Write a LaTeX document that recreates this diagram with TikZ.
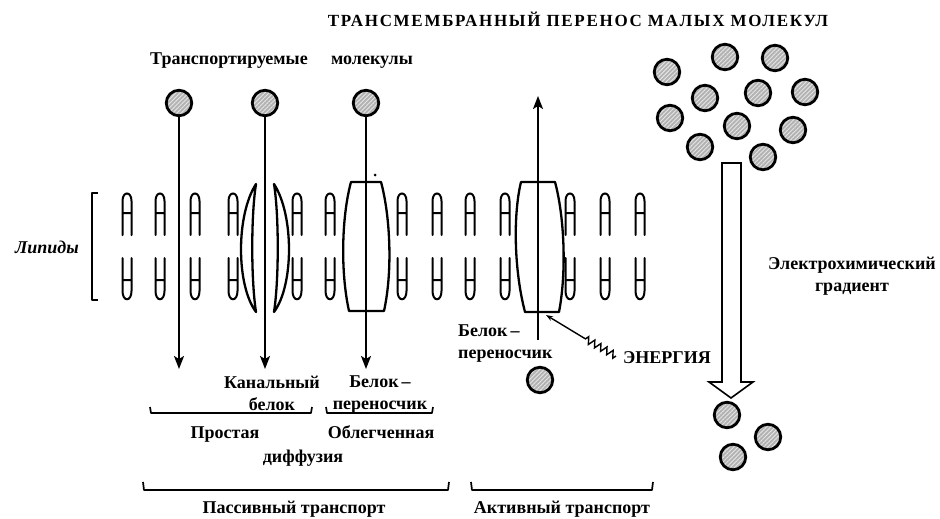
\documentclass[tikz,border=0pt]{standalone}
\usepackage{fontspec}
\setmainfont{Liberation Serif}
\newfontfamily\titlefont[LetterSpace=10]{Liberation Serif}
\usetikzlibrary{arrows.meta,patterns.meta,decorations.pathmorphing}

\begin{document}
\begin{tikzpicture}[x=1pt, y=-1pt, >={Stealth[length=13pt,width=10pt,inset=3pt]},
    mol/.style={circle, draw, line width=2.8pt, minimum size=25.5pt, inner sep=0pt,
        preaction={fill=gray!60}, pattern={Lines[angle=45,distance=3pt,line width=0.9pt]},
        pattern color=white!80!gray},
    lipid/.style={line width=2pt, line cap=round},
    prot/.style={line width=2.3pt, fill=white, line join=round},
    lbl/.style={font=\fontsize{18}{22}\selectfont\bfseries, inner sep=0pt, align=center},
    grp/.style={line width=1.7pt, line join=round}]
    \useasboundingbox (0,0) rectangle (940,519);

    % title and headings
    \node[font=\titlefont\fontsize{17}{20}\selectfont\bfseries, inner sep=0pt, anchor=base] (title) at (578,27)
        {ТРАНСМЕМБРАННЫЙ ПЕРЕНОС МАЛЫХ МОЛЕКУЛ};
    \node[lbl, anchor=base] (tr) at (229,65) {Транспортируемые};
    \node[lbl, anchor=base] (ml) at (372,65) {молекулы};

    % lipid bilayer
    \foreach \x in {127,160,195,233,297,330,402,437,470,505,570,605,640} {
        \draw[lipid] (\x-4.5,235) -- (\x-4.5,201) .. controls (\x-4.5,191) and (\x+4.5,191) .. (\x+4.5,201) -- (\x+4.5,235)
            (\x-4.5,213) -- (\x+4.5,213);
        \draw[lipid] (\x-4.5,258) -- (\x-4.5,291) .. controls (\x-4.5,302) and (\x+4.5,302) .. (\x+4.5,291) -- (\x+4.5,258)
            (\x-4.5,280) -- (\x+4.5,280);
    }
    \draw[grp] (98,193) -- (92,193) -- (92,300) -- (98,300);
    \node[lbl, font=\fontsize{18}{22}\selectfont\bfseries\itshape] (lip) at (47,247) {Липиды};

    % channel protein
    \draw[prot] (256,184) .. controls (236,215) and (236,285) .. (256,312)
        .. controls (251,280) and (251,215) .. (256,184) -- cycle;
    \draw[prot] (274,184) .. controls (294,215) and (294,285) .. (274,312)
        .. controls (279,280) and (279,215) .. (274,184) -- cycle;

    % carrier proteins
    \draw[prot] (351,182) -- (381,182) .. controls (390,215) and (393,270) .. (384,311)
        -- (349,311) .. controls (340,270) and (342,215) .. (351,182) -- cycle;
    \fill (375,175) circle (1.5);
    \draw[prot] (521,182) -- (555,182) .. controls (564,215) and (567,270) .. (559,312)
        -- (525,312) .. controls (514,270) and (513,215) .. (521,182) -- cycle;

    % passive transport
    \node[mol] (m1) at (179,103) {};
    \node[mol] (m2) at (265,103) {};
    \node[mol] (m3) at (366,103) {};
    \coordinate (d1) at (179,369);
    \coordinate (d2) at (265,369);
    \coordinate (d3) at (366,369);
    \draw[->, line width=2pt] (m1) -- (d1);
    \draw[->, line width=2pt] (m2) -- (d2);
    \draw[->, line width=2pt] (m3) -- (d3);

    % active transport
    \coordinate (ab) at (538,340);
    \coordinate (up) at (538,96);
    \draw[->, line width=2pt] (ab) -- (up);
    \node[mol] (m4) at (540,380) {};
    \node[lbl, align=left, anchor=west] (act) at (458,344) {Белок\,–\\переносчик};
    \node[lbl] (en) at (667,358) {ЭНЕРГИЯ};
    \coordinate (ez) at (616,356);
    \coordinate (eb) at (546,315);
    \draw[line width=1.4pt, -{Stealth[length=7pt,width=5pt]}] (ez)
        decorate[decoration={zigzag, segment length=7pt, amplitude=3.5pt}] {-- (584,338)} -- (eb);

    % concentration gradient
    \foreach \p [count=\i] in {(667,72),(725,57),(775,58),(705,98),(758,93),(805,92),
            (670,118),(737,126),(793,130),(700,147),(763,157)}
        \node[mol] (c\i) at \p {};
    \foreach \p [count=\i] in {(727,415),(768,437),(733,457)}
        \node[mol] (b\i) at \p {};
    \draw[line width=1.6pt, fill=white, line join=miter] (722,163) -- (741,163) -- (741,382) -- (753,382)
        -- (731,398) -- (709,382) -- (722,382) -- cycle;
    \node[lbl] (grad) at (852,276) {Электрохимический\\градиент};

    % labels below the membrane
    \node[lbl, anchor=north] (chan) at (272,376) {Канальный\\белок};
    \node[lbl, anchor=north] (carr) at (380,376) {Белок\,–\\переносчик};
    \draw[grp] (150,407) -- (151,413) -- (311,413) -- (312,407);
    \draw[grp] (326,407) -- (327,413) -- (432,413) -- (433,407);
    \node[lbl, anchor=base] (simp) at (225,438) {Простая};
    \node[lbl, anchor=base] (facil) at (381,438) {Облегченная};
    \node[lbl] (diff) at (303,458) {диффузия};
    \draw[grp] (143,482) -- (144,490) -- (448,490) -- (449,482);
    \node[lbl, anchor=base] (pass) at (294,513) {Пассивный транспорт};
    \draw[grp] (471,482) -- (472,490) -- (652,490) -- (653,482);
    \node[lbl, anchor=base] (actv) at (562,513) {Активный транспорт};
\end{tikzpicture}
\end{document}
